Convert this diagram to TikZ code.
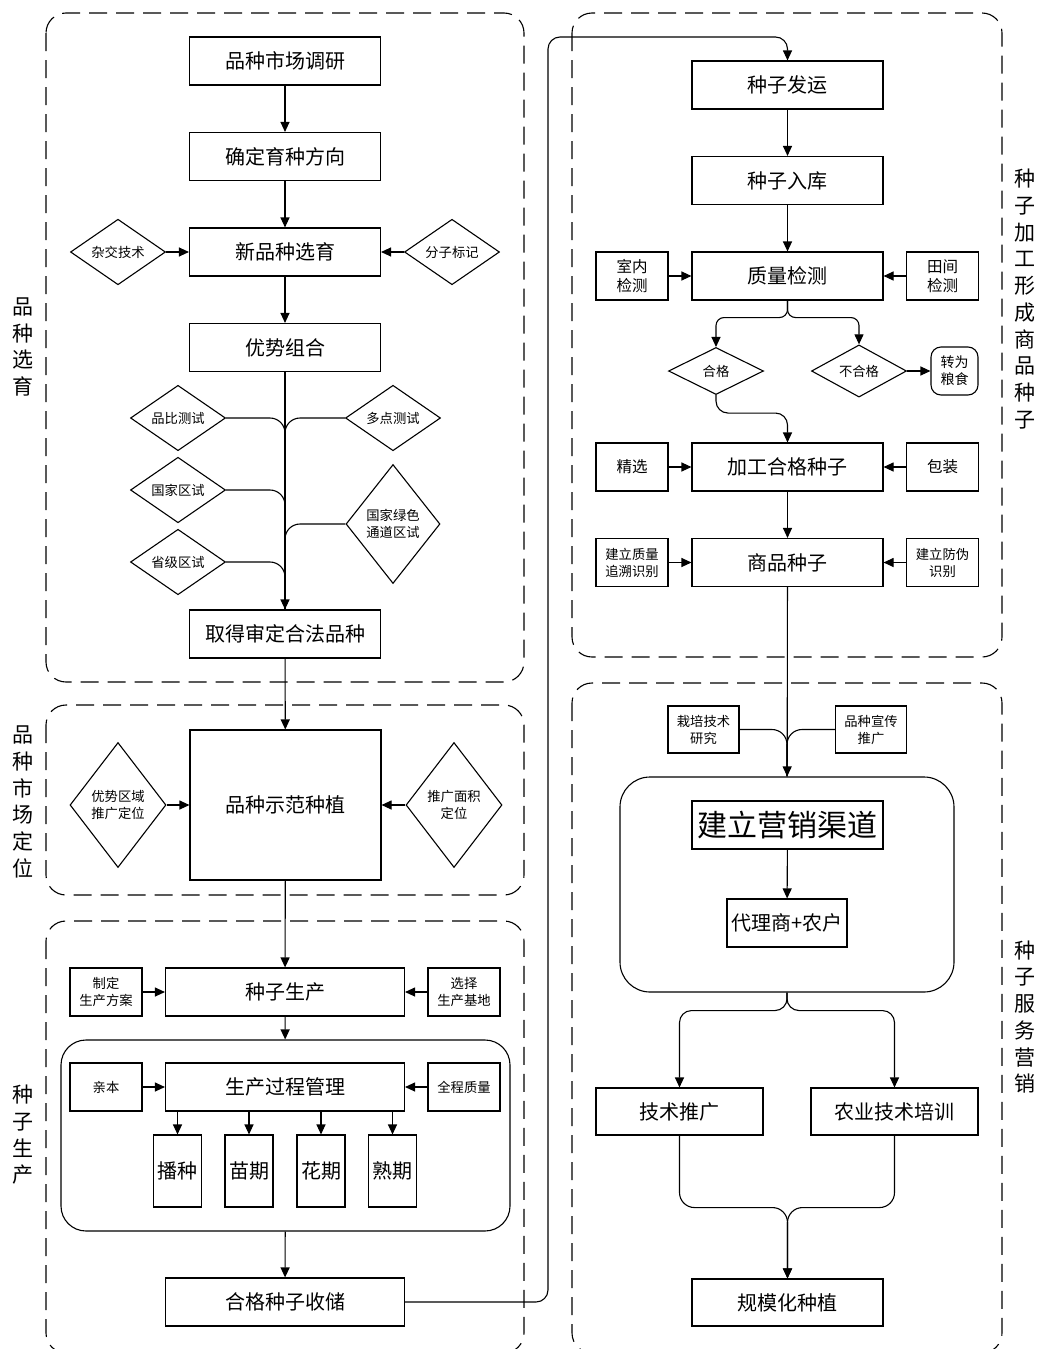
\documentclass[tikz,border=0pt]{standalone}
\usepackage{fontspec}
\setmainfont{Noto Sans CJK SC}
\usetikzlibrary{shapes.geometric,arrows.meta}

\begin{document}
\begin{tikzpicture}[x=1pt,y=-1pt,line width=1.1pt]
 \tikzstyle{arrow}    = [-{Triangle[length=10pt,width=9pt]}];
 \tikzstyle{branch}   = [rounded corners=15pt];
 \tikzstyle{mainbox}  = [draw,inner sep=0pt,minimum width=191pt,minimum height=48pt,node distance=95.5pt,font=\fontsize{20pt}{23pt}\selectfont];
 \tikzstyle{sidebox}  = [draw,inner sep=0pt,minimum width=72pt,minimum height=48pt,align=center,font=\fontsize{13.3pt}{17pt}\selectfont];
 \tikzstyle{midbox}   = [sidebox,font=\fontsize{15.5pt}{19pt}\selectfont];
 \tikzstyle{stagebox} = [draw,inner sep=0pt,minimum width=48pt,minimum height=72pt,font=\fontsize{20pt}{23pt}\selectfont];
 \tikzstyle{choice}   = [diamond,draw,inner sep=0pt,align=center,minimum width=95pt,minimum height=48pt,font=\fontsize{13.3pt}{17pt}\selectfont];
 \tikzstyle{group}    = [draw,dash pattern=on 18pt off 9pt,rounded corners=20pt];
 \tikzstyle{grouplabel} = [align=center,inner sep=0pt,font=\fontsize{21pt}{26.7pt}\selectfont];

 \useasboundingbox[fill=white] (0,0) rectangle (1042,1349);

 %% groups
 \draw[group] (46,13) rectangle (524,682);
 \draw[group] (46,705) rectangle (524,895);
 \draw[group] (46,921) rectangle (524,1353);
 \draw[group] (572,13) rectangle (1002,657);
 \draw[group] (572,683) rectangle (1002,1353);

 \node[grouplabel, name=labxy] at (23,347) {品\\种\\选\\育};
 \node[grouplabel, name=labdw] at (23,802) {品\\种\\市\\场\\定\\位};
 \node[grouplabel, name=labsc] at (23,1135) {种\\子\\生\\产};
 \node[grouplabel, name=labjg] at (1025,299) {种\\子\\加\\工\\形\\成\\商\\品\\种\\子};
 \node[grouplabel, name=labyx] at (1025,1017) {种\\子\\服\\务\\营\\销};

 %% breeding
 \node[mainbox, name=dy] at (285,61) {品种市场调研};
 \node[mainbox, name=fx, below of=dy] {确定育种方向};
 \node[mainbox, name=xy, below of=fx] {新品种选育};
 \node[mainbox, name=zh, below of=xy] {优势组合};
 \node[mainbox, name=hf] at (285,634) {取得审定合法品种};

 \node[choice, name=zj] at (118,252) {杂交技术};
 \node[choice, name=fz] at (452,252) {分子标记};
 \node[choice, name=pb, minimum height=50pt] at (178,418) {品比测试};
 \node[choice, name=dd, minimum height=44pt] at (393,418) {多点测试};
 \node[choice, name=gj] at (178,490) {国家区试};
 \node[choice, name=ls, minimum width=94pt, minimum height=119pt] at (393,524) {国家绿色\\通道区试};
 \node[choice, name=sj] at (178,562) {省级区试};

 \draw[arrow] (dy) -- (fx);
 \draw[arrow] (fx) -- (xy);
 \draw[arrow] (xy) -- (zh);
 \draw[arrow] (zj) -- (xy);
 \draw[arrow] (fz) -- (xy);
 \draw[arrow] (zh) -- (hf);
 \draw[branch] (pb.east) -| (hf.north);
 \draw[branch] (dd.west) -| (hf.north);
 \draw[branch] (gj.east) -| (hf.north);
 \draw[branch] (ls.west) -| (hf.north);
 \draw[branch] (sj.east) -| (hf.north);

 %% market position
 \node[mainbox, name=sf, minimum height=150pt] at (285.5,805) {品种示范种植};
 \node[choice, name=ys, minimum width=96pt, minimum height=125pt] at (118,805) {优势区域\\推广定位};
 \node[choice, name=tg, minimum width=96pt, minimum height=125pt] at (454,805) {推广面积\\定位};

 \draw[arrow] (hf) -- (sf);
 \draw[arrow] (ys) -- (sf);
 \draw[arrow] (tg) -- (sf);

 %% seed production
 \node[mainbox, name=sc, minimum width=239pt] at (285,992) {种子生产};
 \node[sidebox, name=fa] at (106,992) {制定\\生产方案};
 \node[sidebox, name=jd] at (464,992) {选择\\生产基地};
 \node[draw, rounded corners=25pt, minimum width=449pt, minimum height=191pt, name=gl] at (285.5,1135.5) {};
 \node[mainbox, name=gc, minimum width=239pt] at (285,1087) {生产过程管理};
 \node[sidebox, name=qb] at (106,1087) {亲本};
 \node[sidebox, name=zl] at (464,1087) {全程质量};
 \node[stagebox, name=bz] at (177.5,1171) {播种};
 \node[stagebox, name=mq] at (249,1171) {苗期};
 \node[stagebox, name=hq] at (321,1171) {花期};
 \node[stagebox, name=sq] at (392.5,1171) {熟期};
 \node[mainbox, name=sc2, minimum width=239pt] at (285,1302) {合格种子收储};

 \draw[arrow] (sf) -- (sc);
 \draw[arrow] (fa) -- (sc);
 \draw[arrow] (jd) -- (sc);
 \draw[arrow] (sc) -- (gl);
 \draw[arrow] (qb) -- (gc);
 \draw[arrow] (zl) -- (gc);
 \draw[arrow] (gc.south -| bz.north) -- (bz.north);
 \draw[arrow] (gc.south -| mq.north) -- (mq.north);
 \draw[arrow] (gc.south -| hq.north) -- (hq.north);
 \draw[arrow] (gc.south -| sq.north) -- (sq.north);
 \draw[arrow] (gl) -- (sc2);

 %% processing
 \node[mainbox, name=fy] at (787.5,85) {种子发运};
 \node[mainbox, name=rk, below of=fy] {种子入库};
 \node[mainbox, name=jc, below of=rk] {质量检测};
 \node[midbox, name=sn] at (632,276) {室内\\检测};
 \node[midbox, name=tj] at (942.5,276) {田间\\检测};
 \node[choice, name=hg, minimum height=47pt] at (716,371) {合格};
 \node[choice, name=bhg, minimum height=47pt] at (859,371) {不合格};
 \node[draw, rounded corners=10pt, inner sep=0pt, minimum width=47pt, minimum height=48pt, align=center, font=\fontsize{14pt}{17pt}\selectfont, name=ls2] at (954.5,371) {转为\\粮食};
 \node[mainbox, name=jg] at (787.5,467) {加工合格种子};
 \node[midbox, name=jx] at (632,467) {精选};
 \node[midbox, name=bzh] at (942.5,467) {包装};
 \node[mainbox, name=sp] at (787.5,562.5) {商品种子};
 \node[sidebox, name=zs] at (632,562.5) {建立质量\\追溯识别};
 \node[sidebox, name=fw] at (942.5,562.5) {建立防伪\\识别};

 \coordinate (turn) at (548,37);
 \draw[arrow, rounded corners=12pt] (sc2.east) -| (turn) -| (fy.north);
 \draw[arrow] (fy) -- (rk);
 \draw[arrow] (rk) -- (jc);
 \draw[arrow] (sn) -- (jc);
 \draw[arrow] (tj) -- (jc);
 \draw[arrow, rounded corners=8pt] (jc.south) -- ++(0,17) -| (hg.north);
 \draw[arrow, rounded corners=8pt] (jc.south) -- ++(0,17) -| (bhg.north);
 \draw[arrow] (bhg) -- (ls2);
 \draw[arrow, rounded corners=12pt] (hg.south) -- ++(0,18) -| (jg.north);
 \draw[arrow] (jx) -- (jg);
 \draw[arrow] (bzh) -- (jg);
 \draw[arrow] (jg) -- (sp);
 \draw[arrow] (zs) -- (sp);
 \draw[arrow] (fw) -- (sp);

 %% marketing
 \node[sidebox, name=zp, minimum width=71pt, minimum height=47pt] at (703.5,729.5) {栽培技术\\研究};
 \node[sidebox, name=xc, minimum width=71pt, minimum height=47pt] at (871,729.5) {品种宣传\\推广};
 \node[draw, rounded corners=30pt, minimum width=334pt, minimum height=215pt, name=qd] at (787,884.5) {};
 \node[mainbox, name=yx, font=\fontsize{30pt}{34pt}\selectfont] at (787.5,825) {建立营销渠道};
 \node[mainbox, name=nh, minimum width=120pt] at (787,923) {代理商+农户};
 \node[mainbox, name=js, minimum width=167pt, minimum height=47pt] at (679.5,1111.5) {技术推广};
 \node[mainbox, name=px, minimum width=167pt, minimum height=47pt] at (894.5,1111.5) {农业技术培训};
 \node[mainbox, name=gm, minimum height=47pt] at (787.5,1302.5) {规模化种植};

 \draw[arrow] (sp) -- (qd);
 \draw[branch] (zp.east) -| (qd.north);
 \draw[branch] (xc.west) -| (qd.north);
 \draw[arrow] (yx) -- (nh);
 \draw[arrow, rounded corners=12pt] (qd.south) -- ++(0,18) -| (js.north);
 \draw[arrow, rounded corners=12pt] (qd.south) -- ++(0,18) -| (px.north);
 \draw[arrow, rounded corners=15pt] (js.south) -- ++(0,72) -| (gm.north);
 \draw[arrow, rounded corners=15pt] (px.south) -- ++(0,72) -| (gm.north);

\end{tikzpicture}
\end{document}
